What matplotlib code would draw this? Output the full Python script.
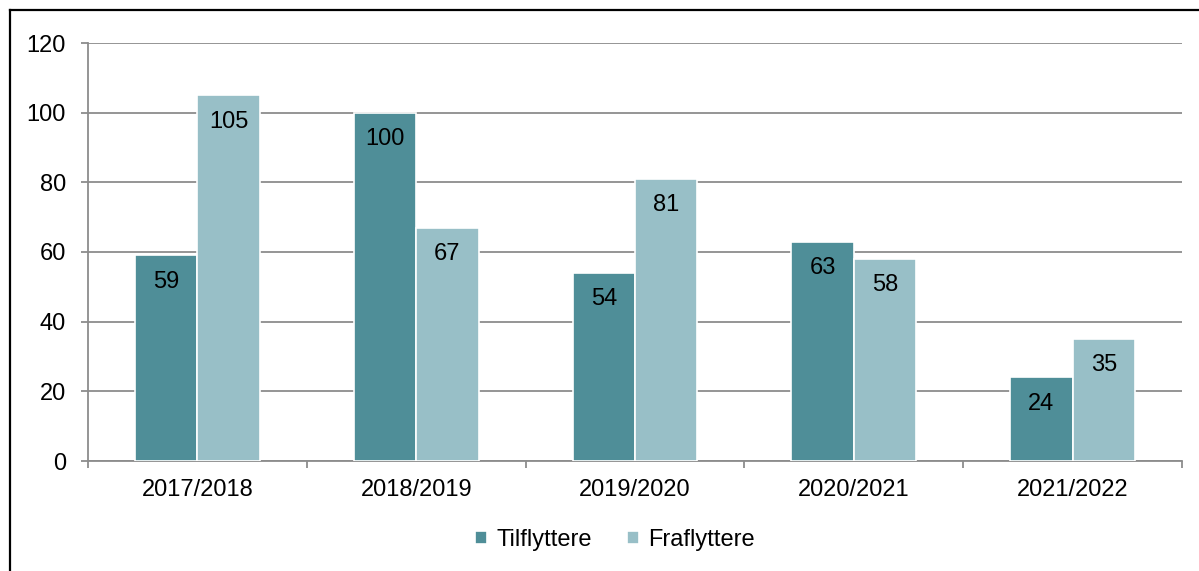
import numpy as np
import matplotlib.pyplot as plt
from matplotlib.lines import Line2D

plt.rcParams['font.family'] = ['Liberation Sans', 'DejaVu Sans']

years = ["2017/2018", "2018/2019", "2019/2020", "2020/2021", "2021/2022"]
tilflyttere = [59, 100, 54, 63, 24]
fraflyttere = [105, 67, 81, 58, 35]

teal = "#4f8e98"
light = "#98bfc7"
grid = "#8c8c8c"
fs = 17

fig = plt.figure(figsize=(11.99, 5.71), dpi=100)
ax = fig.add_axes([88 / 1199, 1 - 461 / 571, (1182 - 88) / 1199, (461 - 43) / 571])

x = np.arange(len(years))
w = 0.285
b1 = ax.bar(x - w / 2, tilflyttere, w, color=teal, edgecolor="white", linewidth=1.2,
            label="Tilflyttere", zorder=3)
b2 = ax.bar(x + w / 2, fraflyttere, w, color=light, edgecolor="white", linewidth=1.2,
            label="Fraflyttere", zorder=3)

for bars in (b1, b2):
    for r in bars:
        h = r.get_height()
        ax.annotate("{}".format(int(h)), (r.get_x() + r.get_width() / 2, h),
                    xytext=(0, -19), textcoords="offset points",
                    ha="center", va="center", fontsize=fs, color="black", zorder=4)

ax.set_xlim(-0.5, len(years) - 0.5)
ax.set_ylim(0, 120)
ax.set_yticks(range(0, 121, 20))
ax.yaxis.grid(True, color=grid, linewidth=1.3, zorder=1)
ax.set_axisbelow(True)

# category boundaries as major ticks, labels on minor ticks
ax.set_xticks(np.arange(-0.5, len(years), 1.0))
ax.set_xticklabels([])
ax.set_xticks(x, minor=True)
ax.set_xticklabels(years, minor=True)
ax.tick_params(axis="x", which="major", length=5, width=1.3, color=grid, direction="out")
ax.tick_params(axis="x", which="minor", length=0, pad=13, labelsize=fs)
ax.tick_params(axis="y", length=5, width=1.3, color=grid, direction="out", pad=11, labelsize=fs)

for s in ("top", "right"):
    ax.spines[s].set_visible(False)
for s in ("left", "bottom"):
    ax.spines[s].set_color(grid)
    ax.spines[s].set_linewidth(1.3)

fig.legend(handles=[b1, b2], labels=["Tilflyttere", "Fraflyttere"], loc="center",
           bbox_to_anchor=(615 / 1199, 1 - 540 / 571), ncol=2, frameon=False,
           fontsize=fs, handlelength=0.5, handleheight=0.5, handletextpad=0.4,
           columnspacing=1.5)

# outer frame (left and top edges visible)
fig.add_artist(Line2D([9.5 / 1199, 9.5 / 1199], [0, 1 - 10 / 571], color="black",
                      linewidth=1.6, transform=fig.transFigure))
fig.add_artist(Line2D([9.5 / 1199, 1], [1 - 10 / 571, 1 - 10 / 571], color="black",
                      linewidth=1.6, transform=fig.transFigure))

fig.savefig("out.png", dpi=100)
